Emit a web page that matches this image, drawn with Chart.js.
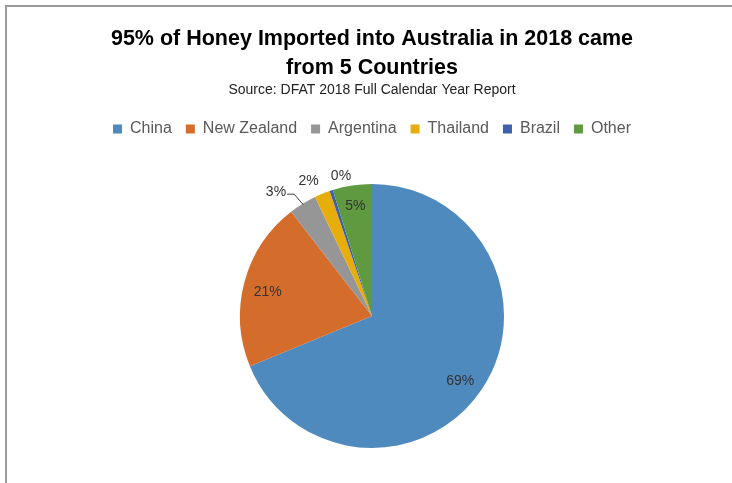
<!DOCTYPE html>
<html>
<head>
<meta charset="utf-8">
<script src="https://cdn.jsdelivr.net/npm/chart.js@4/dist/chart.umd.min.js"></script>
<style>
  html, body { margin: 0; padding: 0; background: #ffffff; }
  #wrap { width: 732px; height: 483px; position: relative; }
</style>
</head>
<body>
<div id="wrap"><canvas id="c" width="732" height="483"></canvas></div>
<script>
const titleLines = ["95% of Honey Imported into Australia in 2018 came", "from 5 Countries"];
const subtitleText = "Source: DFAT 2018 Full Calendar Year Report";
const countries = ["China", "New Zealand", "Argentina", "Thailand", "Brazil", "Other"];
const sharePercent = [68.8, 20.7, 3.4, 1.9, 0.4, 4.8];
const sliceColors = ["#4E8ABE", "#D46D2B", "#969696", "#E6AD0B", "#3E60AC", "#5F9A40"];

const framePlugin = {
  id: 'frame',
  beforeDraw(chart) {
    const ctx = chart.ctx;
    ctx.save();
    ctx.fillStyle = '#9a9a9a';
    ctx.fillRect(5, 5, 727, 2);
    ctx.fillRect(5, 5, 2, 478);
    ctx.restore();
  }
};

const areaShiftPlugin = {
  id: 'areaShift',
  afterLayout(chart, args, opts) {
    chart.chartArea.top += opts.top || 0;
    chart.chartArea.height = chart.chartArea.bottom - chart.chartArea.top;
  }
};

const sliceLabelPlugin = {
  id: 'sliceLabels',
  afterDatasetsDraw(chart, args, opts) {
    const ctx = chart.ctx;
    const meta = chart.getDatasetMeta(0);
    const data = chart.data.datasets[0].data;
    const total = data.reduce((a, b) => a + b, 0);
    ctx.save();
    ctx.font = opts.font;
    ctx.fillStyle = opts.color;
    ctx.textAlign = 'center';
    ctx.textBaseline = 'middle';
    meta.data.forEach((arc, i) => {
      const p = arc.getProps(['x', 'y', 'startAngle', 'endAngle', 'outerRadius'], true);
      const mid = (p.startAngle + p.endAngle) / 2;
      const place = opts.placement[i] || {};
      const rf = place.r !== undefined ? place.r : opts.insideRatio;
      const a = mid + (place.shift || 0) * Math.PI / 180;
      const lx = p.x + Math.cos(a) * p.outerRadius * rf;
      const ly = p.y + Math.sin(a) * p.outerRadius * rf;
      const txt = Math.round(data[i] / total * 100) + '%';
      ctx.fillText(txt, lx, ly);
      if (place.leader) {
        const w = ctx.measureText(txt).width;
        const sx = lx + w / 2 + 1;
        const ex = p.x + Math.cos(mid) * p.outerRadius * 0.99;
        const ey = p.y + Math.sin(mid) * p.outerRadius * 0.99;
        ctx.strokeStyle = '#404040';
        ctx.lineWidth = 1;
        ctx.beginPath();
        ctx.moveTo(sx, ly + 2.5);
        ctx.lineTo(sx + 7, ly + 2.5);
        ctx.lineTo(ex, ey);
        ctx.stroke();
      }
    });
    ctx.restore();
  }
};

new Chart(document.getElementById('c'), {
  type: 'pie',
  data: {
    labels: countries,
    datasets: [{
      data: sharePercent,
      backgroundColor: sliceColors,
      borderWidth: 0,
      radius: 132
    }]
  },
  options: {
    responsive: false,
    animation: false,
    events: [],
    layout: { padding: { left: 12, top: 0, right: 0, bottom: 0 } },
    plugins: {
      title: {
        display: true,
        text: titleLines,
        color: '#000000',
        font: { family: "'Liberation Sans', Arial, sans-serif", size: 21.5, weight: 'bold', lineHeight: 1.33 },
        padding: { top: 25, bottom: 0 }
      },
      subtitle: {
        display: true,
        text: subtitleText,
        color: '#222222',
        font: { family: "'Liberation Sans', Arial, sans-serif", size: 14, lineHeight: 1.2 },
        padding: { top: 0, bottom: 8 }
      },
      legend: {
        display: true,
        position: 'top',
        labels: {
          color: '#595959',
          boxWidth: 9,
          boxHeight: 9,
          padding: 14,
          font: { family: "'Liberation Sans', Arial, sans-serif", size: 16 }
        }
      },
      tooltip: { enabled: false },
      areaShift: { top: 2 },
      sliceLabels: {
        font: "14px 'Liberation Sans', Arial, sans-serif",
        color: '#333333',
        insideRatio: 0.82,
        placement: {
          0: { r: 0.83, shift: 2.5 },
          1: { r: 0.81, shift: -2 },
          2: { r: 1.19, shift: -6, leader: true },
          3: { r: 1.13, shift: -3 },
          4: { r: 1.086, shift: 5.5 },
          5: { r: 0.84 }
        }
      }
    }
  },
  plugins: [framePlugin, areaShiftPlugin, sliceLabelPlugin]
});
</script>
</body>
</html>
